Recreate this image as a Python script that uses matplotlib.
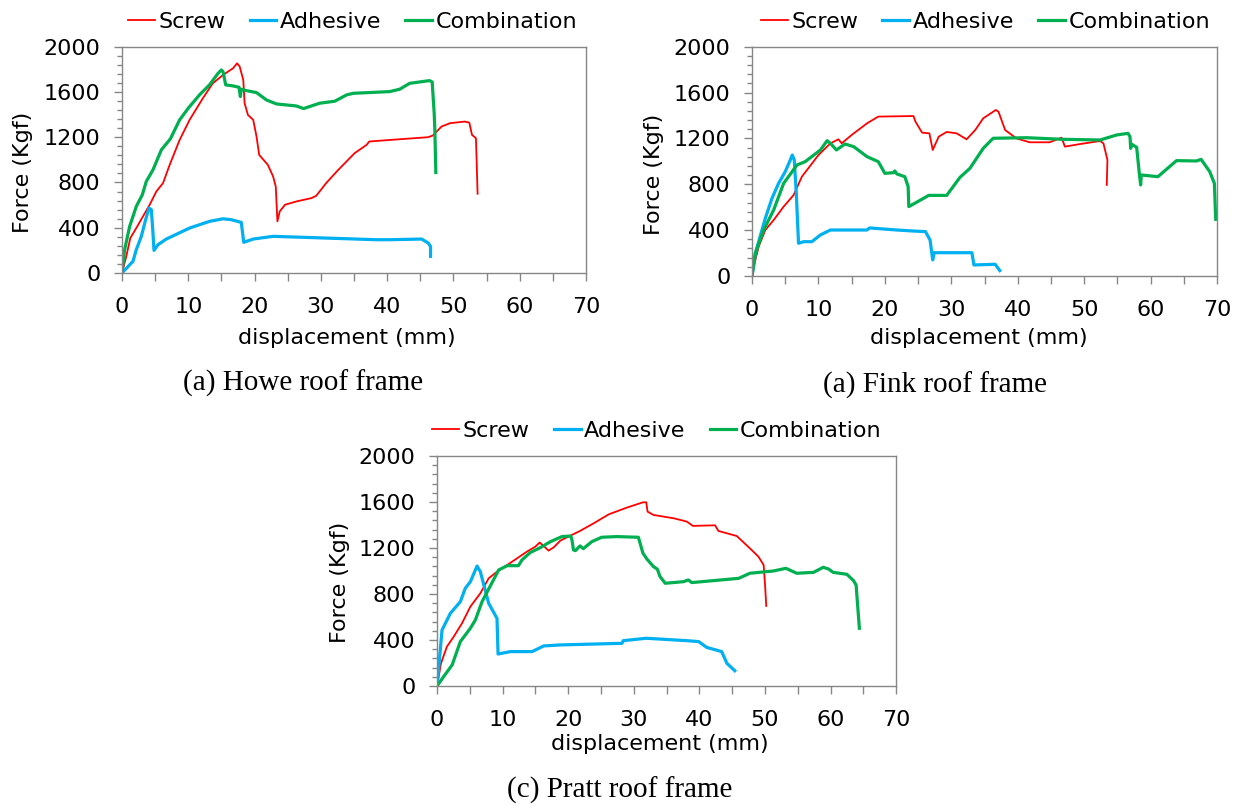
import matplotlib
matplotlib.use("Agg")
import matplotlib.pyplot as plt
from matplotlib.ticker import MultipleLocator

# ---------------------------------------------------------------------------
# Data (displacement in mm, force in Kgf)
# Howe roof frame
howe_screw_x = [0, 0.65, 1.26, 2.16, 3.17, 4.18, 5.18, 6.19, 7.2, 8.7, 10.2, 12.2, 13.7, 15.25,
                16.76, 17.36, 17.76, 18.3, 18.5, 19.0, 19.8, 20.3, 20.7, 22.0, 22.8, 23.2, 23.45,
                23.8, 24.6, 26.3, 28.6, 29.3, 30.8, 32.4, 35.1, 36.9, 37.3, 41.9, 46.2, 46.9,
                48.2, 49.5, 51.7, 52.4, 52.8, 53.4, 53.5, 53.65]
howe_screw_y = [0, 147, 309, 397, 500, 603, 720, 794, 956, 1176, 1353, 1544, 1676, 1750,
                1809, 1853, 1824, 1706, 1500, 1397, 1353, 1206, 1044, 956, 853, 765, 456,
                544, 603, 632, 662, 682, 794, 897, 1059, 1132, 1162, 1182, 1200, 1215,
                1294, 1324, 1338, 1329, 1221, 1191, 1000, 700]
howe_adh_x = [0, 1.66, 2.16, 2.92, 3.57, 4.08, 4.43, 4.68, 4.83, 5.43, 6.69, 10.2, 13.2, 15.25,
              16.5, 18.0, 18.37, 19.8, 22.8, 38.4, 40.4, 45.2, 46.2, 46.55, 46.55]
howe_adh_y = [0, 103, 206, 324, 471, 574, 559, 353, 200, 250, 300, 397, 456, 479,
              471, 447, 271, 300, 324, 294, 294, 300, 265, 235, 147]
howe_comb_x = [0, 0.4, 1.16, 2.16, 3.07, 3.67, 4.68, 5.94, 7.3, 8.7, 10.0, 11.7, 13.2, 14.5,
               15.0, 15.25, 15.65, 16.76, 17.66, 17.86, 18.0, 18.76, 20.3, 21.8, 23.3, 26.3,
               27.4, 29.8, 32.1, 33.9, 34.9, 40.4, 41.9, 43.4, 46.4, 46.8, 47.1, 47.2, 47.35]
howe_comb_y = [0, 206, 412, 588, 691, 809, 912, 1088, 1185, 1353, 1456, 1574, 1662, 1765,
               1794, 1779, 1662, 1653, 1641, 1559, 1624, 1612, 1594, 1529, 1494, 1476,
               1453, 1500, 1518, 1574, 1588, 1603, 1624, 1676, 1700, 1688, 1412, 1265, 888]

# Fink roof frame
fink_screw_x = [0, 0.25, 1.0, 2.0, 3.26, 4.76, 6.26, 7.5, 10.0, 11.8, 13.0, 13.5, 15.0, 17.3,
                19.0, 24.3, 24.6, 25.6, 26.7, 27.2, 28.1, 29.3, 30.8, 32.3, 33.6, 34.8, 36.7,
                37.1, 38.1, 39.8, 41.8, 44.8, 46.6, 47.1, 49.4, 52.4, 52.9, 53.5, 53.4]
fink_screw_y = [0, 81, 256, 401, 488, 605, 706, 866, 1055, 1157, 1192, 1157, 1230, 1331,
                1390, 1395, 1346, 1250, 1244, 1099, 1215, 1256, 1244, 1192, 1273, 1375, 1448,
                1433, 1273, 1200, 1166, 1166, 1206, 1128, 1151, 1177, 1157, 1012, 794]
fink_adh_x = [0, 0.5, 2.0, 3.0, 4.0, 5.0, 5.76, 6.06, 6.36, 6.66, 7.0, 7.77, 9.0, 10.3, 11.8,
              17.3, 17.7, 21.8, 24.3, 26.1, 26.8, 27.2, 27.4, 33.1, 33.4, 36.6, 37.3]
fink_adh_y = [0, 198, 503, 677, 808, 910, 1012, 1055, 1012, 721, 285, 299, 299, 358, 401,
              401, 419, 401, 392, 387, 314, 140, 203, 203, 96, 102, 47]
fink_comb_x = [0, 0.5, 1.75, 3.26, 4.76, 6.76, 8.0, 10.3, 11.3, 11.8, 12.7, 14.0, 15.3, 17.3,
               19.0, 20.0, 21.3, 21.5, 21.8, 23.0, 23.5, 23.6, 24.5, 26.6, 29.3, 31.3, 32.8,
               34.8, 36.3, 41.3, 46.8, 52.4, 54.9, 56.6, 56.9, 57.0, 57.1, 57.9, 58.3, 58.5,
               58.6, 61.1, 63.9, 66.9, 67.6, 68.9, 69.6, 69.8]
fink_comb_y = [0, 198, 401, 576, 808, 968, 997, 1099, 1180, 1157, 1099, 1151, 1128, 1041,
               997, 895, 901, 916, 890, 866, 779, 605, 634, 703, 703, 860, 939,
               1113, 1201, 1206, 1192, 1186, 1230, 1244, 1215, 1113, 1151, 1122, 895, 794,
               881, 866, 1006, 1003, 1017, 910, 808, 494]

# Pratt roof frame
pratt_screw_x = [0, 0.6, 1.5, 2.54, 3.8, 5.08, 6.6, 7.87, 9.14, 10.7, 12.2, 13.7, 15.0, 15.64,
                 16.25, 17.0, 17.8, 18.8, 21.8, 23.9, 26.2, 28.95, 31.4, 31.9, 32.1, 33.0, 36.1,
                 38.1, 39.0, 42.4, 42.9, 45.7, 47.7, 49.0, 49.8, 50.0, 50.2]
pratt_screw_y = [0, 197, 342, 429, 545, 690, 806, 936, 994, 1052, 1110, 1168, 1212, 1247,
                 1218, 1177, 1206, 1264, 1348, 1415, 1493, 1551, 1597, 1597, 1516, 1487, 1458,
                 1429, 1392, 1397, 1348, 1304, 1197, 1125, 1052, 893, 696]
pratt_adh_x = [0, 0.76, 2.03, 3.55, 4.3, 5.08, 6.1, 6.6, 7.87, 9.14, 9.3, 11.2, 14.5, 16.25,
               18.8, 28.2, 28.4, 31.9, 38.1, 39.9, 41.1, 43.4, 44.2, 45.4]
pratt_adh_y = [0, 487, 632, 733, 849, 907, 1043, 994, 719, 588, 278, 299, 299, 348,
               357, 371, 394, 415, 394, 386, 336, 299, 197, 133]
pratt_comb_x = [0, 1.0, 2.3, 3.55, 5.08, 5.84, 6.86, 9.4, 10.7, 12.4, 12.95, 14.2, 15.75, 17.3,
                19.05, 20.4, 20.57, 20.8, 21.1, 21.8, 22.3, 23.6, 25.1, 27.4, 30.7, 31.4, 32.0,
                33.0, 33.6, 34.0, 34.8, 37.6, 38.3, 38.85, 46.0, 47.7, 51.3, 53.2, 54.85, 57.4,
                58.9, 59.7, 60.4, 62.5, 63.5, 63.9, 64.4]
pratt_comb_y = [0, 81, 183, 386, 502, 574, 733, 1009, 1046, 1046, 1096, 1160, 1203, 1255,
                1299, 1304, 1270, 1183, 1177, 1218, 1194, 1255, 1293, 1299, 1293, 1154, 1104,
                1038, 1015, 951, 893, 907, 922, 899, 936, 980, 1000, 1023, 980, 988,
                1032, 1017, 988, 971, 916, 878, 502]

series_names = ["Screw", "Adhesive", "Combination"]
captions = ["(a) Howe roof frame", "(a) Fink roof frame", "(c) Pratt roof frame"]
# ---------------------------------------------------------------------------

colors = ["#FF0000", "#00B0F0", "#00B050"]
widths = [1.3, 2.3, 2.3]
axis_grey = "#868686"

plt.rcParams["font.family"] = ["DejaVu Sans"]
fig = plt.figure(figsize=(12.42, 8.06), dpi=100)

panels = [
    # axes rect, legend anchor (axes frac), ylabel pos, xlabel pos, caption pos (fig frac)
    dict(rect=[0.0982, 0.6613, 0.3736, 0.2808], leg=(0.497, 1.111), yl=(-0.213, 0.445),
         xl=(0.485, -0.288), cap=(0.244, 0.524),
         data=[(howe_screw_x, howe_screw_y), (howe_adh_x, howe_adh_y), (howe_comb_x, howe_comb_y)]),
    dict(rect=[0.6055, 0.6576, 0.3744, 0.2845], leg=(0.502, 1.109), yl=(-0.211, 0.445),
         xl=(0.488, -0.271), cap=(0.7528, 0.5223),
         data=[(fink_screw_x, fink_screw_y), (fink_adh_x, fink_adh_y), (fink_comb_x, fink_comb_y)]),
    dict(rect=[0.3519, 0.1489, 0.3696, 0.2854], leg=(0.479, 1.109), yl=(-0.211, 0.45),
         xl=(0.486, -0.252), cap=(0.4992, 0.0198),
         data=[(pratt_screw_x, pratt_screw_y), (pratt_adh_x, pratt_adh_y), (pratt_comb_x, pratt_comb_y)]),
]

for i, p in enumerate(panels):
    ax = fig.add_axes(p["rect"])
    for (x, y), name, c, lw in zip(p["data"], series_names, colors, widths):
        ax.plot(x, y, color=c, lw=lw, label=name, solid_joinstyle="round")

    ax.set_xlim(0, 70)
    ax.set_ylim(0, 2000)
    ax.xaxis.set_major_locator(MultipleLocator(10))
    ax.xaxis.set_minor_locator(MultipleLocator(5))
    ax.yaxis.set_major_locator(MultipleLocator(400))
    ax.yaxis.set_minor_locator(MultipleLocator(80))
    for s in ax.spines.values():
        s.set_color(axis_grey)
        s.set_linewidth(1.0)
    ax.tick_params(which="major", direction="out", color=axis_grey, length=5.5, width=1.0,
                   labelsize=16, pad=10)
    ax.tick_params(axis="x", which="major", pad=12)
    ax.tick_params(axis="x", which="minor", direction="out", color=axis_grey, length=5.5, width=1.0)
    ax.tick_params(axis="y", which="minor", direction="out", color=axis_grey, length=3.8, width=1.0)

    ax.set_xlabel("displacement (mm)", fontsize=16)
    ax.set_ylabel("Force (Kgf)", fontsize=16)
    ax.xaxis.set_label_coords(*p["xl"])
    ax.yaxis.set_label_coords(*p["yl"])
    ax.xaxis.label.set_va("center")
    ax.yaxis.label.set_va("center")

    ax.legend(loc="center", bbox_to_anchor=p["leg"], ncol=3, frameon=False, fontsize=16,
              handlelength=1.2, handletextpad=0.15, columnspacing=1.1, borderpad=0)

    fig.text(p["cap"][0], p["cap"][1], captions[i], ha="center", va="center",
             family=["Liberation Serif", "DejaVu Serif"], fontsize=21)

fig.savefig("out.png", dpi=100)
